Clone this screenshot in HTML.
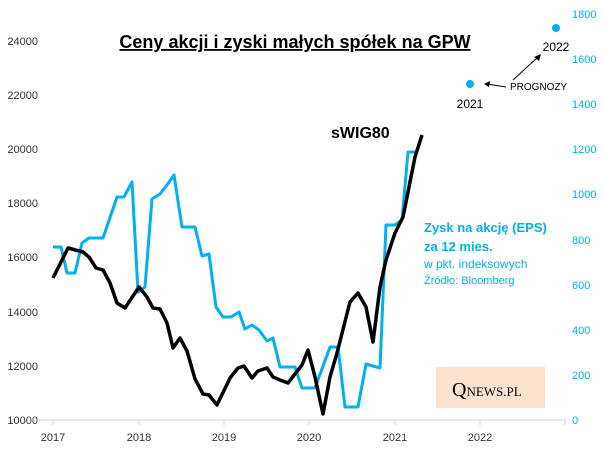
<!DOCTYPE html>
<html><head><meta charset="utf-8"><style>body{margin:0;background:#fff}svg{display:block;font-family:"Liberation Sans",sans-serif}</style></head><body>
<svg width="605" height="454" viewBox="0 0 605 454">
<g font-size="11" fill="#333" text-anchor="end">
<text x="38" y="45">24000</text><text x="38" y="99">22000</text><text x="38" y="153">20000</text><text x="38" y="207">18000</text><text x="38" y="261">16000</text><text x="38" y="316">14000</text><text x="38" y="370">12000</text><text x="38" y="424">10000</text>
</g>
<g font-size="11" fill="#00b0f0" text-anchor="start">
<text x="572" y="18">1800</text><text x="572" y="63">1600</text><text x="572" y="108">1400</text><text x="572" y="153">1200</text><text x="572" y="198">1000</text><text x="572" y="244">800</text><text x="572" y="289">600</text><text x="572" y="334">400</text><text x="572" y="379">200</text><text x="572" y="424">0</text>
</g>
<line x1="32" y1="420" x2="566" y2="420" stroke="#d0d0d0" stroke-width="1"/>
<g stroke="#d0d0d0"><line x1="53" y1="420" x2="53" y2="425"/><line x1="139" y1="420" x2="139" y2="425"/><line x1="224" y1="420" x2="224" y2="425"/><line x1="309" y1="420" x2="309" y2="425"/><line x1="395" y1="420" x2="395" y2="425"/><line x1="480" y1="420" x2="480" y2="425"/><line x1="565" y1="420" x2="565" y2="425"/></g>
<g font-size="11" fill="#333" text-anchor="middle">
<text x="53" y="441">2017</text><text x="139" y="441">2018</text><text x="224" y="441">2019</text><text x="309" y="441">2020</text><text x="395" y="441">2021</text><text x="480" y="441">2022</text>
</g>
<text x="295" y="48" font-size="18" font-weight="bold" text-anchor="middle" fill="#000" text-decoration="underline">Ceny akcji i zyski małych spółek na GPW</text>
<polyline fill="none" stroke="#00b0f0" stroke-width="3" stroke-linejoin="round" points="53,247 61,247 67,273 75,273 82,243 89,238 103,238 117,197 124,197 132,182 138,292 145,287 152,199 160,194 167,185 174,175 182,227 195,227 202,256 209,254 216,307 223,317 231,317 239,312 245,329 252,325 259,330 267,341 273,338 280,367 295,367 302,388 315,388 330,347 338,347 345,407 358,407 366,364 380,368 386,225 395,225 402,220 408,152 417,152"/>
<polyline fill="none" stroke="#000" stroke-width="3.5" stroke-linejoin="round" points="53,278 68,248 83,252 89,257 96,268 103,270 110,283 117,303 125,308 139,287 147,297 153,308 160,309 167,323 173,348 180,338 187,351 195,379 203,394 209,395 217,405 230,378 238,368 244,366 252,378 258,371 267,368 273,377 280,380 288,383 302,365 308,350 315,377 323,414 330,377 337,353 350,302 358,293 366,307 373,342 380,287 386,260 395,233 403,217 415,157 422,135"/>
<text x="331" y="138" font-size="16" font-weight="bold">sWIG80</text>
<text x="424" y="232" font-size="13" font-weight="bold" fill="#00b0f0">Zysk na akcję (EPS)</text>
<text x="424" y="251" font-size="13" font-weight="bold" fill="#00b0f0">za 12 mies.</text>
<text x="424" y="268" font-size="12" fill="#00b0f0">w pkt. indeksowych</text>
<text x="424" y="284" font-size="11" fill="#00b0f0">Źródło: Bloomberg</text>
<circle cx="470" cy="84" r="4" fill="#00b0f0"/>
<circle cx="556" cy="28" r="4" fill="#00b0f0"/>
<text x="470" y="108" font-size="12" text-anchor="middle">2021</text>
<text x="556" y="51" font-size="12" text-anchor="middle">2022</text>
<text x="510" y="90" font-size="10">PROGNOZY</text>
<line x1="506" y1="87" x2="487" y2="84" stroke="#000"/><path d="M484,84 l6,-3 l-1,6z" fill="#000"/>
<line x1="513" y1="80" x2="538" y2="57" stroke="#000"/><path d="M541,54 l-2,7 l-5,-4z" fill="#000"/>
<rect x="436" y="367" width="109" height="41" fill="#fbe3d0"/>
<text x="452" y="396" font-size="20" font-family="Liberation Serif,serif" fill="#000">Q<tspan font-size="13">NEWS.PL</tspan></text>
</svg>
</body></html>
